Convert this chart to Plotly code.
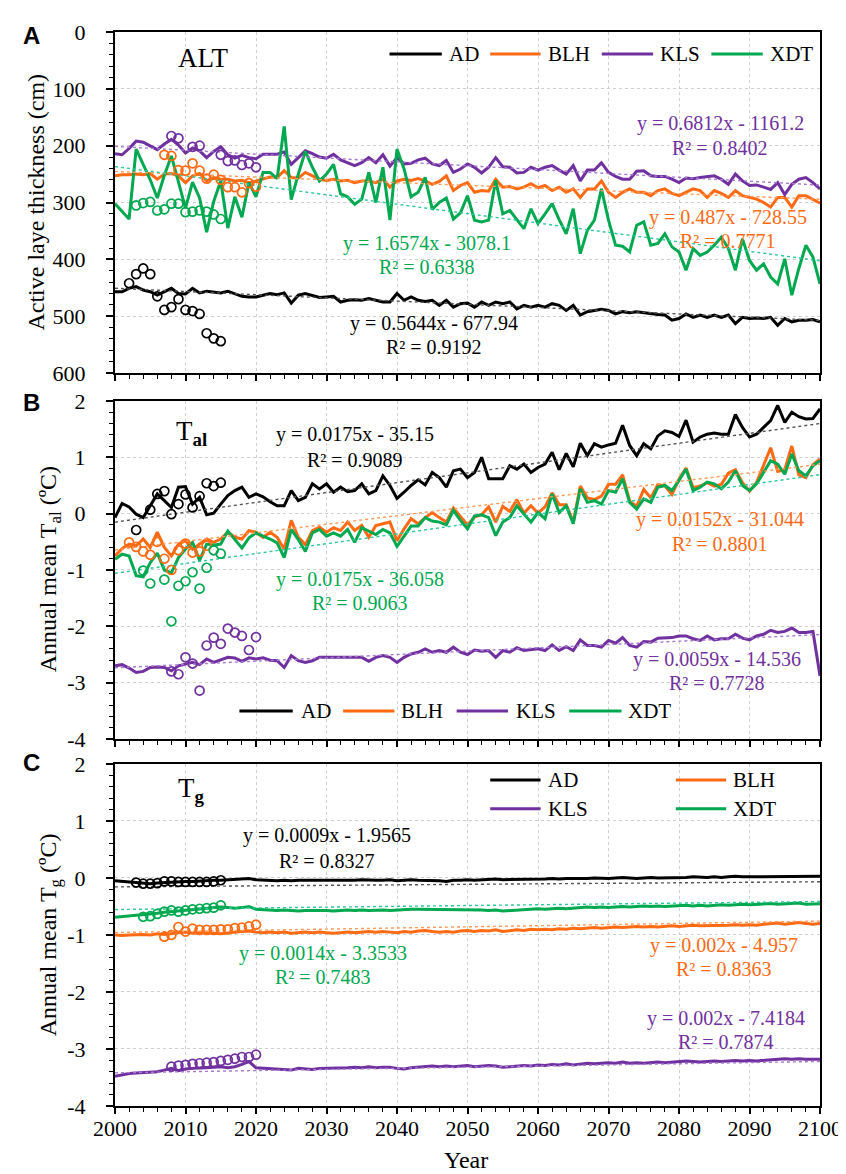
import plotly.graph_objects as go

# ---------------------------------------------------------------- data
YEARS = list(range(2000, 2101))
SITES = ["AD", "BLH", "KLS", "XDT"]

# Panel A: active layer thickness (cm)
ALT_AD = [457, 457, 451, 448, 454, 457, 463, 457, 451, 460,
          461, 451, 459, 456, 458, 459, 456, 460, 465, 466,
          466, 463, 460, 462, 459, 477, 463, 460, 463, 467,
          466, 465, 475, 472, 471, 472, 469, 472, 475, 475,
          460, 472, 466, 472, 474, 472, 481, 472, 484, 478,
          477, 484, 475, 481, 475, 478, 475, 487, 481, 484,
          481, 484, 478, 481, 490, 481, 498, 492, 490, 488,
          490, 496, 492, 494, 492, 494, 496, 497, 498, 507,
          504, 496, 502, 498, 502, 498, 502, 498, 513, 502,
          504, 503, 504, 502, 516, 504, 510, 507, 507, 506,
          510]
ALT_BLH = [253, 251, 251, 250, 251, 249, 259, 250, 249, 253,
           265, 253, 249, 262, 256, 259, 259, 262, 261, 265,
           262, 259, 255, 256, 244, 256, 257, 247, 253, 259,
           261, 259, 262, 261, 265, 262, 262, 265, 259, 273,
           262, 259, 261, 258, 262, 268, 263, 253, 279, 270,
           265, 282, 279, 280, 259, 273, 272, 276, 273, 267,
           274, 270, 279, 273, 282, 276, 291, 276, 276, 262,
           282, 291, 282, 276, 282, 282, 288, 279, 276, 284,
           288, 282, 276, 279, 291, 279, 284, 291, 279, 288,
           291, 294, 300, 308, 291, 291, 308, 288, 288, 294,
           301]
ALT_KLS = [214, 216, 205, 192, 194, 200, 207, 197, 189, 199,
           213, 204, 209, 221, 210, 202, 216, 222, 217, 221,
           223, 215, 215, 215, 211, 233, 221, 209, 214, 220,
           222, 215, 225, 230, 235, 230, 221, 230, 216, 236,
           221, 232, 231, 225, 222, 232, 235, 226, 247, 241,
           232, 238, 248, 238, 221, 237, 238, 248, 247, 238,
           243, 238, 235, 243, 250, 235, 262, 243, 243, 230,
           247, 254, 259, 259, 245, 244, 253, 254, 254, 259,
           265, 257, 258, 256, 254, 253, 259, 268, 250, 262,
           270, 269, 273, 277, 265, 286, 268, 259, 256, 265,
           276]
ALT_XDT = [302, 315, 329, 206, 232, 260, 292, 252, 218, 262,
           310, 264, 292, 352, 298, 262, 345, 290, 326, 265,
           290, 247, 247, 258, 166, 295, 250, 210, 238, 262,
           250, 233, 285, 290, 303, 294, 247, 300, 238, 331,
           206, 241, 290, 282, 256, 312, 300, 292, 329, 318,
           288, 331, 334, 331, 261, 320, 314, 330, 346, 311,
           337, 320, 302, 330, 355, 311, 390, 349, 331, 276,
           331, 375, 377, 387, 340, 334, 375, 372, 355, 378,
           387, 419, 381, 393, 387, 375, 361, 381, 419, 364,
           402, 419, 408, 431, 443, 399, 463, 416, 375, 396,
           443]

ALT_OBS_AD_YEARS = list(range(2002, 2016))
ALT_OBS_AD = [442, 426, 416, 426, 465, 489, 484, 470, 489, 491, 496, 530, 539, 544]
ALT_OBS_BLH_YEARS = list(range(2007, 2021))
ALT_OBS_BLH = [216, 218, 243, 244, 231, 244, 258, 251, 260, 273, 273, 282, 266, 272]
ALT_OBS_KLS_YEARS = [2008, 2009, 2011, 2012, 2015, 2016, 2017, 2018, 2019, 2020]
ALT_OBS_KLS = [183, 187, 202, 200, 216, 227, 226, 234, 231, 238]
ALT_OBS_XDT_YEARS = list(range(2003, 2016))
ALT_OBS_XDT = [305, 301, 299, 314, 312, 302, 302, 317, 316, 314, 316, 321, 329]

# Panel B: annual mean T_al (ºC)
TAL_AD = [-0.07, 0.18, 0.12, -0.01, -0.07, 0.14, 0.35, 0.23, 0.11, 0.47,
          0.48, 0.17, 0.29, -0.02, 0.01, 0.17, 0.32, 0.41, 0.47, 0.29,
          0.35, 0.30, 0.21, 0.14, 0.14, 0.41, 0.23, 0.29, 0.53, 0.44,
          0.53, 0.38, 0.47, 0.39, 0.41, 0.53, 0.35, 0.41, 0.67, 0.50,
          0.27, 0.38, 0.50, 0.60, 0.51, 0.73, 0.64, 0.47, 0.76, 0.79,
          0.64, 0.73, 1.00, 0.62, 0.62, 0.62, 0.85, 0.79, 0.88, 0.73,
          0.82, 0.88, 1.09, 0.78, 1.07, 0.83, 1.25, 1.03, 1.24, 1.18,
          1.22, 1.25, 1.57, 1.21, 1.03, 1.24, 1.15, 1.38, 1.47, 1.44,
          1.37, 1.66, 1.27, 1.36, 1.41, 1.43, 1.41, 1.41, 1.76, 1.53,
          1.36, 1.41, 1.53, 1.65, 1.92, 1.62, 1.80, 1.72, 1.68, 1.69,
          1.86]
TAL_BLH = [-0.75, -0.62, -0.54, -0.57, -0.45, -0.60, -0.33, -0.60, -0.75, -0.54,
           -0.48, -0.63, -0.54, -0.45, -0.51, -0.45, -0.33, -0.42, -0.45, -0.30,
           -0.33, -0.42, -0.33, -0.42, -0.63, -0.12, -0.42, -0.55, -0.30, -0.24,
           -0.33, -0.25, -0.30, -0.15, -0.30, -0.21, -0.42, -0.21, -0.18, -0.15,
           -0.48, -0.27, -0.09, -0.18, -0.07, 0.02, -0.07, -0.15, 0.10, -0.05,
           -0.20, -0.06, -0.02, 0.12, -0.15, 0.13, 0.04, 0.25, 0.01, 0.14,
           0.01, 0.12, 0.37, 0.16, 0.16, -0.15, 0.49, 0.28, 0.25, 0.31,
           0.52, 0.52, 0.69, 0.22, 0.13, 0.43, 0.28, 0.52, 0.49, 0.34,
           0.61, 0.81, 0.46, 0.49, 0.55, 0.49, 0.52, 0.72, 0.78, 0.55,
           0.40, 0.55, 0.87, 1.17, 0.75, 0.78, 1.20, 0.69, 0.64, 0.87,
           0.97]
TAL_KLS = [-2.70, -2.68, -2.74, -2.82, -2.80, -2.73, -2.72, -2.73, -2.79, -2.70,
           -2.67, -2.64, -2.68, -2.58, -2.64, -2.60, -2.55, -2.56, -2.62, -2.56,
           -2.58, -2.56, -2.60, -2.61, -2.73, -2.52, -2.61, -2.64, -2.61, -2.55,
           -2.55, -2.54, -2.54, -2.55, -2.54, -2.55, -2.62, -2.55, -2.52, -2.55,
           -2.64, -2.55, -2.49, -2.46, -2.40, -2.46, -2.43, -2.46, -2.37, -2.46,
           -2.50, -2.42, -2.44, -2.43, -2.55, -2.43, -2.46, -2.38, -2.43, -2.42,
           -2.40, -2.43, -2.33, -2.43, -2.36, -2.43, -2.24, -2.34, -2.34, -2.37,
           -2.25, -2.30, -2.20, -2.34, -2.37, -2.27, -2.28, -2.21, -2.21, -2.20,
           -2.17, -2.17, -2.22, -2.25, -2.17, -2.24, -2.22, -2.22, -2.14, -2.21,
           -2.24, -2.17, -2.14, -2.07, -2.11, -2.09, -2.03, -2.11, -2.11, -2.09,
           -2.88]
TAL_XDT = [-0.81, -0.72, -0.75, -1.10, -1.12, -0.87, -0.70, -1.00, -1.05, -0.78,
           -0.63, -0.51, -0.83, -0.54, -0.56, -0.54, -0.31, -0.45, -0.61, -0.43,
           -0.34, -0.40, -0.45, -0.52, -0.78, -0.28, -0.46, -0.67, -0.34, -0.28,
           -0.40, -0.34, -0.40, -0.28, -0.51, -0.25, -0.31, -0.37, -0.28, -0.34,
           -0.58, -0.40, -0.22, -0.22, -0.07, -0.13, -0.15, -0.20, 0.06, -0.12,
           -0.27, -0.04, -0.02, -0.07, -0.39, -0.15, -0.07, 0.14, -0.01, -0.15,
           0.02, -0.09, 0.35, 0.02, 0.14, -0.18, 0.44, 0.20, 0.23, 0.17,
           0.41, 0.38, 0.62, 0.20, 0.08, 0.26, 0.20, 0.47, 0.50, 0.41,
           0.59, 0.79, 0.41, 0.47, 0.56, 0.53, 0.44, 0.56, 0.76, 0.50,
           0.41, 0.53, 0.73, 0.94, 0.88, 0.70, 1.06, 0.76, 0.67, 0.85,
           0.94]

TAL_OBS_AD_YEARS = [2003, 2005, 2006, 2007, 2008, 2009, 2010, 2011, 2012, 2013, 2014, 2015]
TAL_OBS_AD = [-0.29, 0.07, 0.35, 0.40, -0.01, 0.17, 0.34, 0.11, 0.31, 0.54, 0.49, 0.55]
TAL_OBS_BLH_YEARS = list(range(2002, 2014))
TAL_OBS_BLH = [-0.51, -0.59, -0.67, -0.73, -0.50, -0.80, -1.00, -0.65, -0.53, -0.69, -0.67, -0.57]
TAL_OBS_KLS_YEARS = list(range(2008, 2021))
TAL_OBS_KLS = [-2.80, -2.85, -2.55, -2.66, -3.14, -2.34, -2.20, -2.31, -2.04, -2.11, -2.17, -2.42, -2.19]
TAL_OBS_XDT_YEARS = [2004, 2005, 2007, 2008, 2009, 2010, 2011, 2012, 2013, 2014, 2015]
TAL_OBS_XDT = [-1.01, -1.24, -1.17, -1.91, -1.28, -1.20, -1.04, -1.33, -0.96, -0.65, -0.71]

# Panel C: annual mean T_g (ºC)
TG_AD = [-0.05, -0.06, -0.08, -0.09, -0.10, -0.10, -0.09, -0.08, -0.07, -0.07,
         -0.06, -0.06, -0.05, -0.05, -0.04, -0.04, -0.03, -0.03, -0.02, -0.01,
         -0.03, -0.04, -0.04, -0.05, -0.04, -0.05, -0.04, -0.04, -0.05, -0.04,
         -0.04, -0.04, -0.05, -0.04, -0.04, -0.03, -0.04, -0.04, -0.04, -0.03,
         -0.05, -0.04, -0.03, -0.04, -0.04, -0.04, -0.05, -0.06, -0.04, -0.04,
         -0.03, -0.04, -0.03, -0.03, -0.02, -0.03, -0.03, -0.02, -0.02, -0.03,
         -0.02, -0.02, -0.01, -0.02, -0.01, -0.01, -0.02, -0.01, 0.00, -0.01,
         -0.01, 0.00, 0.01, 0.00, -0.01, 0.00, 0.01, 0.00, 0.00, 0.01,
         0.00, 0.01, 0.02, 0.01, 0.01, 0.02, 0.01, 0.02, 0.03, 0.02,
         0.02, 0.03, 0.02, 0.03, 0.03, 0.03, 0.02, 0.03, 0.03, 0.03,
         0.03]
TG_BLH = [-1.00, -1.01, -1.00, -0.99, -0.99, -1.00, -0.98, -0.99, -0.97, -0.96,
          -0.95, -0.97, -0.96, -0.96, -0.97, -0.98, -0.96, -0.95, -0.94, -0.93,
          -0.95, -0.96, -0.95, -0.96, -0.95, -0.97, -0.96, -0.95, -0.96, -0.95,
          -0.96, -0.97, -0.96, -0.95, -0.96, -0.95, -0.94, -0.95, -0.94, -0.95,
          -0.96, -0.94, -0.95, -0.93, -0.92, -0.94, -0.95, -0.94, -0.95, -0.93,
          -0.92, -0.94, -0.92, -0.93, -0.91, -0.94, -0.92, -0.91, -0.92, -0.90,
          -0.91, -0.90, -0.91, -0.89, -0.90, -0.88, -0.89, -0.88, -0.87, -0.88,
          -0.87, -0.86, -0.87, -0.86, -0.85, -0.86, -0.85, -0.86, -0.85, -0.84,
          -0.85, -0.84, -0.83, -0.84, -0.84, -0.83, -0.84, -0.83, -0.82, -0.83,
          -0.82, -0.83, -0.81, -0.80, -0.79, -0.81, -0.80, -0.78, -0.80, -0.81,
          -0.80]
TG_KLS = [-3.48, -3.45, -3.43, -3.42, -3.41, -3.41, -3.40, -3.37, -3.34, -3.38,
          -3.35, -3.34, -3.34, -3.33, -3.32, -3.31, -3.33, -3.31, -3.27, -3.22,
          -3.33, -3.34, -3.34, -3.35, -3.36, -3.37, -3.34, -3.35, -3.36, -3.34,
          -3.34, -3.33, -3.34, -3.33, -3.32, -3.33, -3.31, -3.33, -3.32, -3.32,
          -3.34, -3.35, -3.33, -3.32, -3.31, -3.30, -3.31, -3.30, -3.31, -3.30,
          -3.29, -3.31, -3.30, -3.29, -3.30, -3.32, -3.31, -3.30, -3.29, -3.30,
          -3.28, -3.29, -3.27, -3.28, -3.26, -3.28, -3.26, -3.25, -3.26, -3.25,
          -3.24, -3.25, -3.23, -3.25, -3.24, -3.25, -3.24, -3.23, -3.24, -3.23,
          -3.22, -3.21, -3.22, -3.23, -3.22, -3.21, -3.22, -3.21, -3.20, -3.21,
          -3.20, -3.21, -3.20, -3.19, -3.18, -3.17, -3.18, -3.17, -3.18, -3.18,
          -3.18]
TG_XDT = [-0.69, -0.68, -0.67, -0.66, -0.65, -0.63, -0.62, -0.60, -0.59, -0.58,
          -0.57, -0.56, -0.55, -0.54, -0.53, -0.51, -0.52, -0.53, -0.52, -0.50,
          -0.55, -0.56, -0.56, -0.57, -0.56, -0.57, -0.58, -0.57, -0.57, -0.56,
          -0.57, -0.58, -0.57, -0.56, -0.57, -0.56, -0.57, -0.56, -0.56, -0.57,
          -0.56, -0.56, -0.55, -0.55, -0.55, -0.56, -0.55, -0.56, -0.56, -0.55,
          -0.55, -0.56, -0.56, -0.57, -0.56, -0.58, -0.57, -0.56, -0.55, -0.55,
          -0.54, -0.55, -0.54, -0.53, -0.54, -0.53, -0.52, -0.51, -0.52, -0.51,
          -0.52, -0.51, -0.50, -0.51, -0.50, -0.49, -0.50, -0.49, -0.50, -0.49,
          -0.49, -0.48, -0.49, -0.48, -0.49, -0.48, -0.47, -0.48, -0.47, -0.46,
          -0.47, -0.46, -0.46, -0.45, -0.46, -0.45, -0.45, -0.44, -0.46, -0.45,
          -0.45]

TG_OBS_AD_YEARS = list(range(2003, 2016))
TG_OBS_AD = [-0.08, -0.10, -0.10, -0.09, -0.06, -0.06, -0.07, -0.07, -0.07, -0.07, -0.07, -0.06, -0.04]
TG_OBS_BLH_YEARS = list(range(2007, 2021))
TG_OBS_BLH = [-1.03, -1.00, -0.86, -0.94, -0.89, -0.91, -0.91, -0.91, -0.90, -0.90, -0.88, -0.87, -0.85, -0.82]
TG_OBS_KLS_YEARS = list(range(2008, 2021))
TG_OBS_KLS = [-3.31, -3.29, -3.28, -3.26, -3.25, -3.24, -3.23, -3.21, -3.19, -3.17, -3.14, -3.14, -3.10]
TG_OBS_XDT_YEARS = list(range(2004, 2016))
TG_OBS_XDT = [-0.68, -0.67, -0.63, -0.59, -0.57, -0.59, -0.57, -0.55, -0.54, -0.53, -0.52, -0.48]

# linear trend equations (order: AD, BLH, KLS, XDT)
ALT_SLOPES = [0.5644, 0.487, 0.6812, 1.6574]
ALT_INTERCEPTS = [-677.94, -728.55, -1161.2, -3078.1]
ALT_R2 = [0.9192, 0.7771, 0.8402, 0.6338]
TAL_SLOPES = [0.0175, 0.0152, 0.0059, 0.0175]
TAL_INTERCEPTS = [-35.15, -31.044, -14.536, -36.058]
TAL_R2 = [0.9089, 0.8801, 0.7728, 0.9063]
TG_SLOPES = [0.0009, 0.002, 0.002, 0.0014]
TG_INTERCEPTS = [-1.9565, -4.957, -7.4184, -3.3533]
TG_R2 = [0.8327, 0.8363, 0.7874, 0.7483]

# axis ticks
X_TICKS = [2000, 2010, 2020, 2030, 2040, 2050, 2060, 2070, 2080, 2090, 2100]
X_TICK_LABELS = ["2000", "2010", "2020", "2030", "2040", "2050", "2060", "2070", "2080", "2090", "2100"]
ALT_TICKS = [0, 100, 200, 300, 400, 500, 600]
ALT_TICK_LABELS = ["0", "100", "200", "300", "400", "500", "600"]
T_TICKS = [2, 1, 0, -1, -2, -3, -4]
T_TICK_LABELS = ["2", "1", "0", "-1", "-2", "-3", "-4"]

# ---------------------------------------------------------------- style / layout
COLORS = ["#000000", "#FF6A13", "#7030A0", "#00A84F"]
TREND_COLORS = ["#555555", "#FF9A5A", "#A57AD0", "#2CC79A"]
SERIF = "Liberation Serif, Times New Roman, Tinos, DejaVu Serif, serif"
SANS = "Liberation Sans, Arial, Arimo, DejaVu Sans, sans-serif"

W, H = 846, 1174
ML, MR, MT, MB = 107, 25, 21, 76
PW = W - ML - MR
PH = H - MT - MB


def fx(p):
    return (p - ML) / PW


def fy(p):
    return 1 - (p - MT) / PH


panels = [
    dict(top=21, bottom=363, lines=[ALT_AD, ALT_BLH, ALT_KLS, ALT_XDT],
         obs=[(ALT_OBS_AD_YEARS, ALT_OBS_AD), (ALT_OBS_BLH_YEARS, ALT_OBS_BLH),
              (ALT_OBS_KLS_YEARS, ALT_OBS_KLS), (ALT_OBS_XDT_YEARS, ALT_OBS_XDT)],
         slopes=ALT_SLOPES, inters=ALT_INTERCEPTS, r2=ALT_R2,
         yrange=[600, 0], ticks=ALT_TICKS, labels=ALT_TICK_LABELS, minor=20, tick0=0,
         eq_pos=[(430, 313, 337), (728, 207, 231), (720, 113, 137), (423, 233, 257)]),
    dict(top=391, bottom=730, lines=[TAL_AD, TAL_BLH, TAL_KLS, TAL_XDT],
         obs=[(TAL_OBS_AD_YEARS, TAL_OBS_AD), (TAL_OBS_BLH_YEARS, TAL_OBS_BLH),
              (TAL_OBS_KLS_YEARS, TAL_OBS_KLS), (TAL_OBS_XDT_YEARS, TAL_OBS_XDT)],
         slopes=TAL_SLOPES, inters=TAL_INTERCEPTS, r2=TAL_R2,
         yrange=[-4, 2], ticks=T_TICKS, labels=T_TICK_LABELS, minor=0.2, tick0=0,
         eq_pos=[(350, 425, 450), (720, 510, 534), (717, 650, 674), (355, 570, 594)]),
    dict(top=755, bottom=1098, lines=[TG_AD, TG_BLH, TG_KLS, TG_XDT],
         obs=[(TG_OBS_AD_YEARS, TG_OBS_AD), (TG_OBS_BLH_YEARS, TG_OBS_BLH),
              (TG_OBS_KLS_YEARS, TG_OBS_KLS), (TG_OBS_XDT_YEARS, TG_OBS_XDT)],
         slopes=TG_SLOPES, inters=TG_INTERCEPTS, r2=TG_R2,
         yrange=[-4, 2], ticks=T_TICKS, labels=T_TICK_LABELS, minor=0.2, tick0=0,
         eq_pos=[(322, 827, 852), (724, 937, 961), (726, 1010, 1034), (318, 945, 969)]),
]

fig = go.Figure()
layout = {}
tickfont = dict(family=SERIF, size=22, color="black")

for k, p in enumerate(panels):
    xn = "x" if k == 0 else f"x{k + 1}"
    yn = "y" if k == 0 else f"y{k + 1}"
    # model series
    for i, s in enumerate(SITES):
        fig.add_trace(go.Scatter(x=YEARS, y=p["lines"][i], mode="lines", name=s,
                                 line=dict(color=COLORS[i], width=3),
                                 xaxis=xn, yaxis=yn, showlegend=False))
    # trend lines from the regression equations
    for i, s in enumerate(SITES):
        xs = [YEARS[0], YEARS[-1]]
        ys = [p["slopes"][i] * v + p["inters"][i] for v in xs]
        fig.add_trace(go.Scatter(x=xs, y=ys, mode="lines", name=s + " trend",
                                 line=dict(color=TREND_COLORS[i], width=1.4, dash="dot"),
                                 xaxis=xn, yaxis=yn, showlegend=False))
    # observations
    for i, s in enumerate(SITES):
        ox, oy = p["obs"][i]
        fig.add_trace(go.Scatter(x=ox, y=oy, mode="markers", name=s + " obs",
                                 marker=dict(symbol="circle-open", size=9,
                                             color=COLORS[i], line=dict(width=1.7, color=COLORS[i])),
                                 xaxis=xn, yaxis=yn, showlegend=False))

    dom = [fy(p["bottom"]), fy(p["top"])]
    xkey = "xaxis" if k == 0 else f"xaxis{k + 1}"
    ykey = "yaxis" if k == 0 else f"yaxis{k + 1}"
    xa = dict(
        domain=[0, 1], anchor=yn, range=[2000, 2100],
        tickmode="array", tickvals=X_TICKS,
        showticklabels=(k == 2),
        ticks="outside", ticklen=6, tickwidth=1.6, tickcolor="black",
        minor=dict(tickmode="linear", tick0=2000, dtick=2, ticks="outside",
                   ticklen=4, tickwidth=1.3, tickcolor="black", showgrid=False),
        showline=True, linecolor="black", linewidth=2, mirror=True,
        showgrid=True, gridcolor="#cfcfcf", griddash="dot", gridwidth=1,
        zeroline=False,
    )
    if k == 2:
        xa.update(ticktext=X_TICK_LABELS, tickfont=tickfont, ticklabelstandoff=-4)
    layout[xkey] = xa
    layout[ykey] = dict(
        domain=dom, anchor=xn, range=p["yrange"],
        tickmode="array", tickvals=p["ticks"], ticktext=p["labels"],
        tickfont=tickfont, ticklabelstandoff=16,
        ticks="outside", ticklen=7, tickwidth=1.6, tickcolor="black",
        minor=dict(tickmode="linear", tick0=p["tick0"], dtick=p["minor"], ticks="outside",
                   ticklen=4, tickwidth=1.3, tickcolor="black", showgrid=False),
        showline=True, linecolor="black", linewidth=2, mirror=True,
        showgrid=True, gridcolor="#cfcfcf", griddash="dot", gridwidth=1,
        zeroline=False,
    )
    # overlay axes giving the inner half of the crossing major ticks
    layout[f"xaxis{k + 4}"] = dict(
        overlaying=xn, anchor=yn, side="bottom", range=[2000, 2100],
        tickmode="array", tickvals=X_TICKS, showticklabels=False,
        ticks="inside", ticklen=5, tickwidth=1.6, tickcolor="black",
        showgrid=False, showline=False, zeroline=False,
    )
    layout[f"yaxis{k + 4}"] = dict(
        overlaying=yn, anchor=xn, side="left", range=p["yrange"],
        tickmode="array", tickvals=p["ticks"], showticklabels=False,
        ticks="inside", ticklen=8, tickwidth=1.6, tickcolor="black",
        showgrid=False, showline=False, zeroline=False,
    )

    # regression equation labels
    for i, s in enumerate(SITES):
        cx, y1, y2 = p["eq_pos"][i]
        eq = f"y = {p['slopes'][i]}x - {abs(p['inters'][i])}"
        r2 = f"R² = {p['r2'][i]:.4f}"
        for txt, yy in ((eq, y1), (r2, y2)):
            fig.add_annotation(x=fx(cx), y=fy(yy), xref="paper", yref="paper", text=txt,
                               showarrow=False, xanchor="center", yanchor="middle",
                               font=dict(family=SERIF, size=20, color=COLORS[i]))

fig.update_layout(**layout)


def label(xp, yp, txt, size, family=SERIF, anchor="center", angle=0, color="black"):
    fig.add_annotation(x=fx(xp), y=fy(yp), xref="paper", yref="paper", text=txt,
                       showarrow=False, xanchor=anchor, yanchor="middle", textangle=angle,
                       font=dict(family=family, size=size, color=color))


def key(x0, x1, yp, color):
    fig.add_shape(type="line", xref="paper", yref="paper", x0=fx(x0), x1=fx(x1),
                  y0=fy(yp), y1=fy(yp), line=dict(color=color, width=3))


# panel letters and titles
label(22, 25, "<b>A</b>", 24, family=SANS)
label(22, 393, "<b>B</b>", 24, family=SANS)
label(22, 754, "<b>C</b>", 24, family=SANS)
label(197, 47, "ALT", 27)
label(184, 423, "T<sub><b>al</b></sub>", 27)
label(184, 781, "T<sub><b>g</b></sub>", 27)

# axis titles
label(27, 192, "Active laye thickness (cm)", 24, angle=-90)
label(42, 560, "Annual mean T<sub>al</sub> (ºC)", 24, angle=-90)
label(42, 926, "Annual mean T<sub>g</sub> (ºC)", 24, angle=-90)
label(462, 1152, "Year", 24)

# legends
legA = [(385, 438, 443), (487, 538, 544), (600, 652, 657), (711, 763, 768)]
for i, s in enumerate(SITES):
    a, b, t = legA[i]
    key(a, b, 43, COLORS[i])
    label(t, 43, s, 21, anchor="left")
legB = [(233, 287, 293), (338, 390, 395), (453, 505, 511), (567, 620, 625)]
for i, s in enumerate(SITES):
    a, b, t = legB[i]
    key(a, b, 702, COLORS[i])
    label(t, 702, s, 21, anchor="left")
legC = [(487, 538, 543, 771), (675, 726, 731, 771), (487, 538, 543, 800), (675, 726, 731, 800)]
for i, s in enumerate(SITES):
    a, b, t, yy = legC[i]
    key(a, b, yy, COLORS[i])
    label(t, yy, s, 21, anchor="left")

fig.update_layout(
    width=W, height=H,
    margin=dict(l=ML, r=MR, t=MT, b=MB, pad=0),
    paper_bgcolor="white", plot_bgcolor="white",
    showlegend=False,
    font=dict(family=SERIF, color="black"),
)

fig.write_html("out.html")
